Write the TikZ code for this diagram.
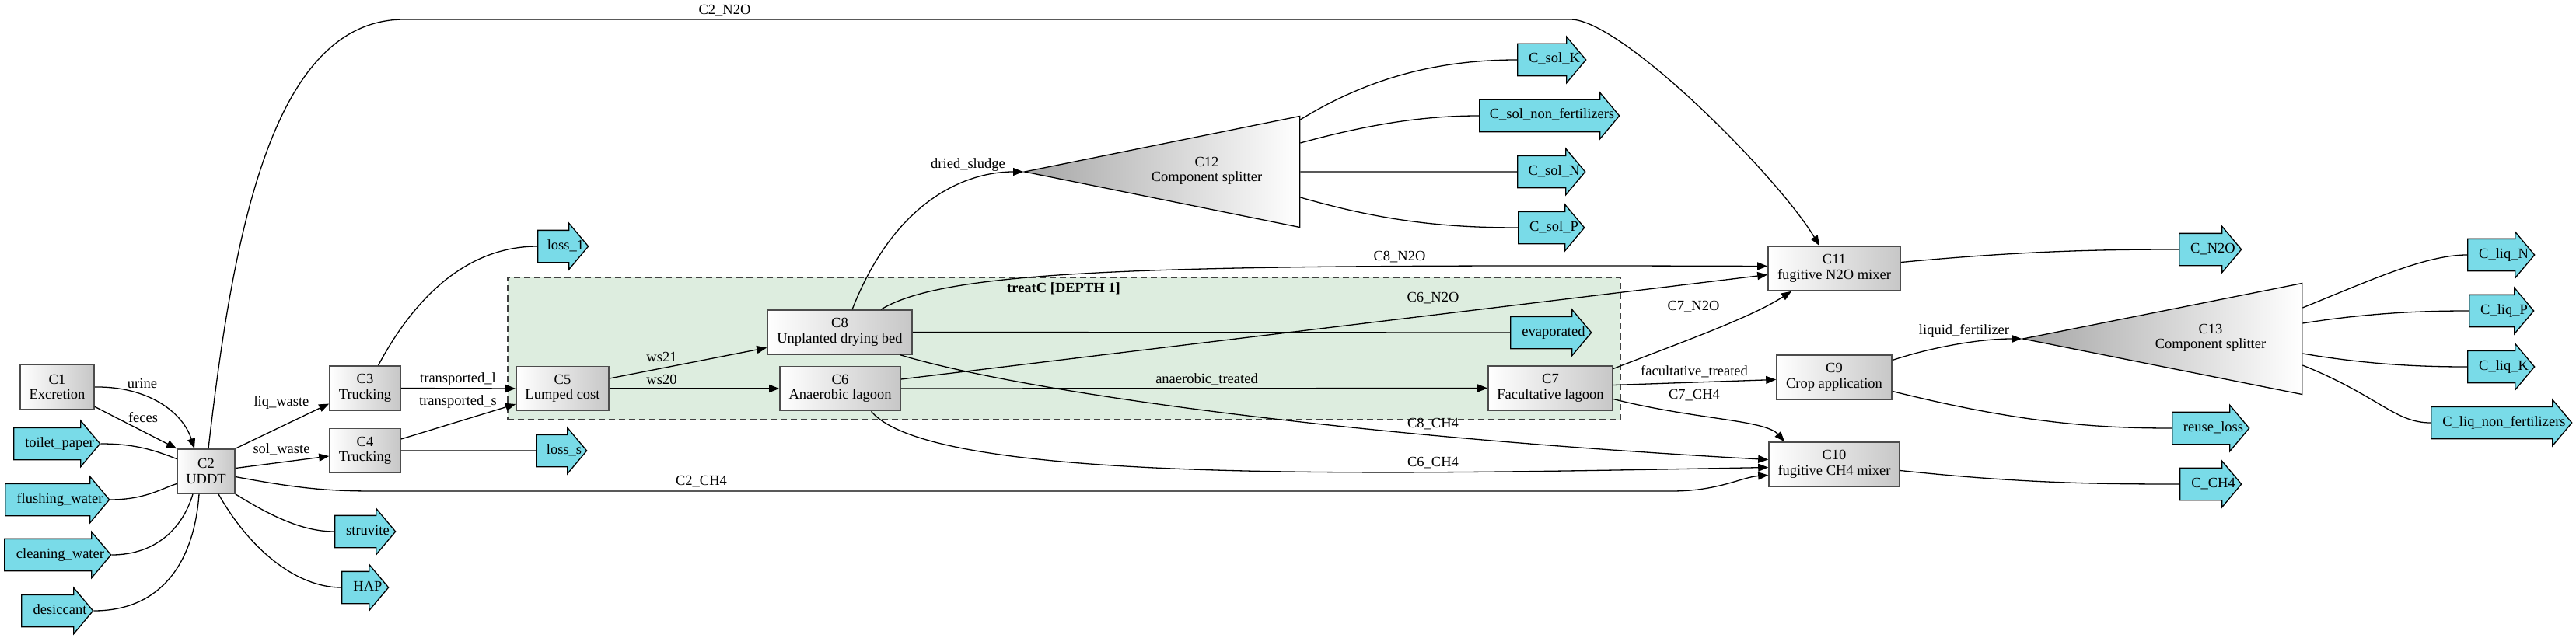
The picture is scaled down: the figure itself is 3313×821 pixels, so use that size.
\documentclass[tikz,border=0pt]{standalone}
\usepackage{fontspec}
\setmainfont{Liberation Serif}
\usepackage{tikz}
\usepackage{xcolor}
\usetikzlibrary{arrows.meta}
\usetikzlibrary{shapes}
\usetikzlibrary{shapes.arrows}
\usetikzlibrary{shapes.geometric}
\usetikzlibrary{calc}
\definecolor{streamcyan}{RGB}{121,219,232}
\definecolor{clustergreen}{RGB}{221,237,223}

\begin{document}
\begin{tikzpicture}[x=1pt, y=-1pt,
    font=\fontsize{18.5}{19.5}\selectfont,
    unit/.style={rectangle, draw=black!70, line width=1.6pt, left color=white,
      right color=black!22, align=center, inner sep=0pt, minimum height=57pt},
    splitter/.style={isosceles triangle, isosceles triangle stretches,
      shape border rotate=180, draw=black, line width=1.3pt, left color=black!35,
      right color=white, inner sep=0pt, minimum width=143pt, anchor=apex},
    stream/.style={single arrow, draw=black, line width=1.3pt, fill=streamcyan,
      anchor=west, single arrow head extend=9pt, single arrow tip angle=100,
      inner xsep=1pt, inner ysep=12pt, text height=12pt, text depth=4pt},
    flow/.style={line width=1.3pt, -{Triangle[length=13pt,width=10pt]}},
    link/.style={line width=1.3pt},
    lbl/.style={inner sep=0pt}]
  \useasboundingbox (0,0) rectangle (3313,821);
  % treatC cluster
  \node[draw=black!75, dash pattern=on 8pt off 5pt, line width=1.3pt,
    fill=clustergreen, minimum width=1431pt, minimum height=183pt, inner sep=0pt]
    (treatC) at (1368.5,448.5) {};
  \node[lbl] (treatClbl) at (1368,371) {\textbf{treatC [DEPTH 1]}};

  \foreach \nm/\px/\py/\len/\txt in {
      C1/73.5/498/95/Excretion,
      C2/265/606.5/74/UDDT,
      C3/469.5/499.5/91/Trucking,
      C4/469.5/580/91/Trucking,
      C5/723.5/500/119/Lumped cost,
      C6/1080.5/500/155/Anaerobic lagoon,
      C7/1994/499.5/160/Facultative lagoon,
      C8/1080/427.5/186/Unplanted drying bed,
      C9/2359/485.5/148/Crop application,
      C10/2359/597.5/168/fugitive CH4 mixer,
      C11/2359/345.5/170/fugitive N2O mixer}
    \node[unit, minimum width=\len pt] (\nm) at (\px,\py) {\nm\\\txt};

  \node[splitter, minimum height=354pt] (C12) at (1316,221) {};
  \node[lbl, align=center] (C12txt) at (1552,220) {C12\\Component splitter};
  \node[splitter, minimum height=359pt] (C13) at (2600,436) {};
  \node[lbl, align=center] (C13txt) at (2843,435) {C13\\Component splitter};

  \foreach \nm/\px/\py/\len/\txt [evaluate=\len as \tw using \len-25] in {
      toiletpaper/17/571/111/toilet\_paper,
      flushingwater/6/643/134/flushing\_water,
      cleaningwater/5/714/137/cleaning\_water,
      desiccant/27/786/92/desiccant,
      struvite/430/684/78/struvite,
      HAP/439/756/60/HAP,
      loss1/691/317/65/loss\_1,
      losss/689/580/65/loss\_s,
      evaporated/1942/428/104/evaporated,
      CsolK/1951/77/88/C\_sol\_K,
      Csolnon/1902/149/180/C\_sol\_non\_fertilizers,
      CsolN/1951/221/87/C\_sol\_N,
      CsolP/1952/293/85/C\_sol\_P,
      CNtwoO/2802/321/80/C\_N2O,
      CCHfour/2803/623/79/C\_CH4,
      reuseloss/2793/551/99/reuse\_loss,
      CliqN/3173/328/86/C\_liq\_N,
      CliqP/3175/400/83/C\_liq\_P,
      CliqK/3173/472/86/C\_liq\_K,
      Cliqnon/3126/544/181/C\_liq\_non\_fertilizers}
    \node[stream, minimum height=\len pt] (\nm) at (\px,\py)
      {\makebox[\tw pt]{\hspace*{24pt}\txt}};

  % into the toilet
  \draw[flow] (C1.east) .. controls (190,497) and (235,530) .. ([xshift=-15pt]C2.north);
  \draw[flow] ([yshift=4pt]C1.south east) -- (C2.north west);
  \node[lbl] (urine) at (183,493) {urine};
  \node[lbl] (feces) at (184,537) {feces};
  \draw[link] (toiletpaper.tip) .. controls (175,571) and (200,580) .. ([yshift=16pt]C2.west);
  \draw[link] (flushingwater.tip) .. controls (185,643) and (205,630) .. ([yshift=-16pt]C2.west);
  \draw[link] (cleaningwater.tip) .. controls (200,714) and (235,680) .. ([xshift=-17pt]C2.south);
  \draw[link] (desiccant.tip) .. controls (210,786) and (250,720) .. ([xshift=-9pt]C2.south);

  % out of the toilet
  \draw[flow] (C2.north east) -- ([yshift=-20pt]C3.west);
  \node[lbl] (liqwaste) at (362,518) {liq\_waste};
  \draw[flow] ([yshift=4pt]C2.east) -- ([yshift=-7pt]C4.west);
  \node[lbl] (solwaste) at (362,578) {sol\_waste};
  \draw[flow] ([yshift=-7pt]C2.east) .. controls (380,628) and (420,632) .. (480,632)
    -- (2150,632) .. controls (2210,632) and (2240,614) .. ([yshift=-14pt]C10.west);
  \node[lbl] (CtwoCHfour) at (902,620) {C2\_CH4};
  \draw[link] (C2.south east) .. controls (350,665) and (390,684) .. (struvite.tail);
  \draw[link] ([xshift=16pt]C2.south) .. controls (320,705) and (380,756) .. (HAP.tail);
  \draw[flow] ([xshift=3pt]C2.north) .. controls (300,300) and (350,25) .. (520,25)
    -- (2020,25) .. controls (2085,25) and (2285,225) .. ([xshift=-19pt]C11.north);
  \node[lbl] (CtwoNtwoO) at (932,14) {C2\_N2O};

  % trucking
  \draw[flow] (C3.east) -- (C5.west);
  \node[lbl] (transpl) at (589,488) {transported\_l};
  \draw[flow] ([yshift=15pt]C4.east) -- ([yshift=-20pt]C5.west);
  \node[lbl] (transps) at (589,517) {transported\_s};
  \draw[link] ([xshift=17pt]C3.north) .. controls (540,370) and (610,317) .. (loss1.tail);
  \draw[link] (C4.east) -- (losss.tail);

  % treatment
  \draw[flow] ([yshift=13pt]C5.east) -- ([yshift=-20pt]C8.west);
  \node[lbl] (wstwentyone) at (851,459) {ws21};
  \draw[flow] (C5.east) -- (C6.west);
  \node[lbl] (wstwenty) at (851,488) {ws20};
  \draw[flow] (C6.east) -- (C7.west);
  \node[lbl] (anaertreated) at (1552,488) {anaerobic\_treated};
  \draw[flow] ([yshift=12pt]C6.east) -- ([yshift=-8pt]C11.west);
  \node[lbl] (CsixNtwoO) at (1843,384) {C6\_N2O};
  \draw[flow] ([xshift=40pt]C6.south) .. controls (1200,625) and (1800,610) .. ([yshift=-4pt]C10.west);
  \node[lbl] (CsixCHfour) at (1843,596) {C6\_CH4};
  \draw[flow] ([xshift=78pt]C8.south) .. controls (1300,500) and (1700,560) .. ([yshift=6pt]C10.west);
  \node[lbl] (CeightCHfour) at (1843,546) {C8\_CH4};
  \draw[flow] ([xshift=53pt]C8.north) .. controls (1220,345) and (1500,340) .. ([yshift=3pt]C11.west);
  \node[lbl] (CeightNtwoO) at (1800,331) {C8\_N2O};
  \draw[link] (C8.east) -- (evaporated.tail);
  \draw[flow] ([xshift=16pt]C8.north) .. controls (1150,260) and (1240,221) .. (C12.apex);
  \node[lbl] (driedsludge) at (1245,212) {dried\_sludge};

  \draw[link] ([yshift=67pt]C12.lower side) .. controls (1760,100) and (1850,77) .. (CsolK.tail);
  \draw[link] ([yshift=37pt]C12.lower side) .. controls (1760,160) and (1830,149) .. (Csolnon.tail);
  \draw[link] (C12.lower side) -- (CsolN.tail);
  \draw[link] ([yshift=-33pt]C12.lower side) .. controls (1780,285) and (1860,293) .. (CsolP.tail);

  % facultative lagoon and reuse
  \draw[flow] ([yshift=4pt]C7.east) -- ([yshift=-3pt]C9.west);
  \node[lbl] (facultreated) at (2179,478) {facultative\_treated};
  \draw[flow] ([yshift=25pt]C7.east) .. controls (2150,445) and (2250,410) .. ([xshift=-55pt]C11.south);
  \node[lbl] (CsevenNtwoO) at (2178,395) {C7\_N2O};
  \draw[flow] ([yshift=-14pt]C7.east) .. controls (2180,540) and (2270,540) .. ([xshift=-64pt]C10.north);
  \node[lbl] (CsevenCHfour) at (2179,509) {C7\_CH4};
  \draw[flow] ([yshift=22pt]C9.east) .. controls (2490,445) and (2550,436) .. (C13.apex);
  \node[lbl] (liqfert) at (2526,426) {liquid\_fertilizer};
  \draw[link] ([yshift=-18pt]C9.east) .. controls (2600,545) and (2700,551) .. (reuseloss.tail);
  \draw[link] ([yshift=-8pt]C10.east) .. controls (2600,622) and (2700,623) .. (CCHfour.tail);
  \draw[link] ([yshift=8pt]C11.east) .. controls (2600,323) and (2700,321) .. (CNtwoO.tail);

  \draw[link] ([yshift=40pt]C13.lower side) .. controls (3050,360) and (3120,328) .. (CliqN.tail);
  \draw[link] ([yshift=20pt]C13.lower side) .. controls (3050,402) and (3120,400) .. (CliqP.tail);
  \draw[link] ([yshift=-19pt]C13.lower side) .. controls (3050,470) and (3120,472) .. (CliqK.tail);
  \draw[link] ([yshift=-34pt]C13.lower side) .. controls (3060,510) and (3080,544) .. (Cliqnon.tail);
\end{tikzpicture}
\end{document}
